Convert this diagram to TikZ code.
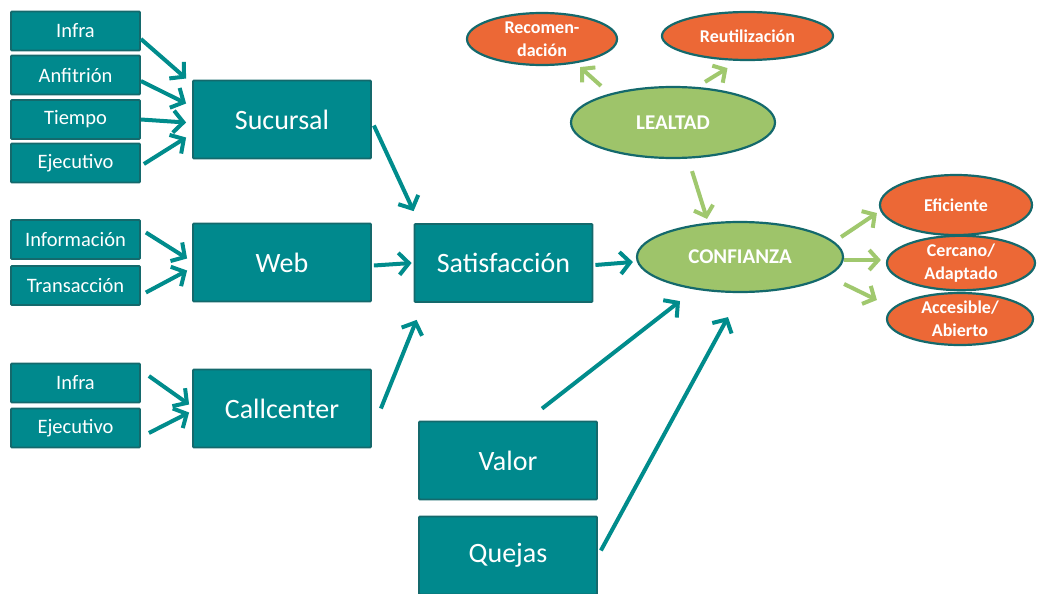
\documentclass[tikz,border=0pt]{standalone}
\usepackage{fontspec}
\setmainfont{Carlito}
\usetikzlibrary{arrows.meta,calc,shapes.geometric}
\definecolor{tealfill}{RGB}{0,137,141}
\definecolor{tealedge}{RGB}{20,105,108}
\definecolor{tealarrow}{RGB}{0,140,140}
\definecolor{orangefill}{RGB}{236,104,54}
\definecolor{greenfill}{RGB}{158,196,106}
\definecolor{greenarrow}{RGB}{160,200,110}
\tikzset{
  box/.style={rectangle, rounded corners=1pt, fill=tealfill, draw=tealedge, line width=1.8pt,
    text=white, inner sep=0pt},
  smallbox/.style={box, minimum width=129pt, minimum height=39pt, font=\fontsize{20.5}{22}\selectfont},
  bigbox/.style={box, minimum width=178pt, minimum height=78pt, font=\fontsize{28}{30}\selectfont},
  oval/.style={ellipse, draw=tealedge, line width=2.2pt, text=white, inner sep=0pt,
    align=center, font=\bfseries\fontsize{18}{23}\selectfont},
  orangeoval/.style={oval, fill=orangefill},
  greenoval/.style={oval, fill=greenfill, font=\bfseries\fontsize{21}{23}\selectfont},
  tarrow/.style={draw=tealarrow, line width=4pt, -{Straight Barb[length=10pt,width=22pt]}},
  garrow/.style={draw=greenarrow, line width=4pt, -{Straight Barb[length=9pt,width=20pt]}},
}
\begin{document}
\begin{tikzpicture}[x=1pt,y=-1pt]
\path[use as bounding box, fill=white] (0,0) rectangle (1042,594);

% left column inputs
\node[smallbox] (infraA) at (75.5,31) {Infra};
\node[smallbox] (anfitrion) at (75.5,75) {Anfitrión};
\node[smallbox] (tiempo) at (75.5,119.5) {Tiempo};
\node[smallbox] (ejecA) at (75.5,163) {Ejecutivo};
\node[smallbox] (informacion) at (75.5,239.5) {Información};
\node[smallbox] (transaccion) at (75.5,285.5) {Transacción};
\node[smallbox] (infraB) at (75.5,383) {Infra};
\node[smallbox] (ejecB) at (75.5,428) {Ejecutivo};

% channels
\node[bigbox] (sucursal) at (282,119.5) {Sucursal};
\node[bigbox] (web) at (282,262.5) {Web};
\node[bigbox] (callcenter) at (282,408.5) {Callcenter};

% middle column
\node[bigbox] (satisf) at (503.5,263) {Satisfacción};
\node[bigbox] (valor) at (508,460.5) {Valor};
\node[bigbox] (quejas) at (508,555.5) {Quejas};

% ovals
\node[greenoval, minimum width=204pt, minimum height=71pt] (lealtad) at (673,122.5) {LEALTAD};
\node[greenoval, minimum width=206pt, minimum height=70pt] (confianza) at (740,257) {CONFIANZA};
\node[orangeoval, minimum width=150pt, minimum height=52pt] (recom) at (542,39) {Recomen-\\dación};
\node[orangeoval, minimum width=171pt, minimum height=48pt] (reutil) at (747.5,36) {Reutilización};
\node[orangeoval, minimum width=152pt, minimum height=60pt] (eficiente) at (956,205) {Eficiente};
\node[orangeoval, minimum width=148pt, minimum height=54pt] (cercano) at (961,263) {Cercano/\\Adaptado};
\node[orangeoval, minimum width=146pt, minimum height=52pt] (accesible) at (960,319) {Accesible/\\Abierto};

% inputs to Sucursal
\draw[tarrow] ($(infraA.east)+(0,8)$) -- ($(sucursal.west)+(-6,-41)$);
\draw[tarrow] ($(anfitrion.east)+(0,6)$) -- ($(sucursal.west)+(-6,-16)$);
\draw[tarrow] (tiempo.east) -- ($(sucursal.west)+(-6,3)$);
\draw[tarrow] ($(ejecA.east)+(3,1)$) -- ($(sucursal.west)+(-6,18)$);
% inputs to Web
\draw[tarrow] ($(informacion.east)+(5,-7)$) -- ($(web.west)+(-5,-4)$);
\draw[tarrow] ($(transaccion.east)+(5,7)$) -- ($(web.west)+(-5,8)$);
% inputs to Callcenter
\draw[tarrow] ($(infraB.east)+(8,-7)$) -- ($(callcenter.west)+(-3,-4)$);
\draw[tarrow] ($(ejecB.east)+(8,5)$) -- ($(callcenter.west)+(-3,4)$);
% channels to Satisfaccion
\draw[tarrow] ($(sucursal.east)+(2,6)$) -- ($(satisf.north west)+(0,-12)$);
\draw[tarrow] ($(web.east)+(2,3)$) -- ($(satisf.west)+(-2,0)$);
\draw[tarrow] ($(callcenter.east)+(9,0)$) -- ($(satisf.south west)+(3,17)$);
% into Confianza
\draw[tarrow] ($(satisf.east)+(2,2)$) -- ($(confianza.west)+(-3,5)$);
\draw[tarrow] ($(valor.north)+(34,-12)$) -- ($(confianza.south)+(-60,8)$);
\draw[tarrow] ($(quejas.east)+(3,-5)$) -- ($(confianza.south)+(-12,24)$);

% green arrows
\draw[garrow] ($(lealtad.north)+(-72,0)$) -- ($(recom.south)+(38,1)$);
\draw[garrow] ($(lealtad.north)+(32,-4)$) -- ($(reutil.south)+(-20,7)$);
\draw[garrow] ($(lealtad.south)+(19,12)$) -- ($(confianza.north)+(-33,-2)$);
\draw[garrow] ($(confianza.east)+(-3,-20)$) -- ($(eficiente.west)+(-2,8)$);
\draw[garrow] ($(confianza.east)+(0,3)$) -- ($(cercano.west)+(-5,-3)$);
\draw[garrow] ($(confianza.east)+(0,27)$) -- ($(accesible.west)+(-9,-19)$);
\end{tikzpicture}
\end{document}
